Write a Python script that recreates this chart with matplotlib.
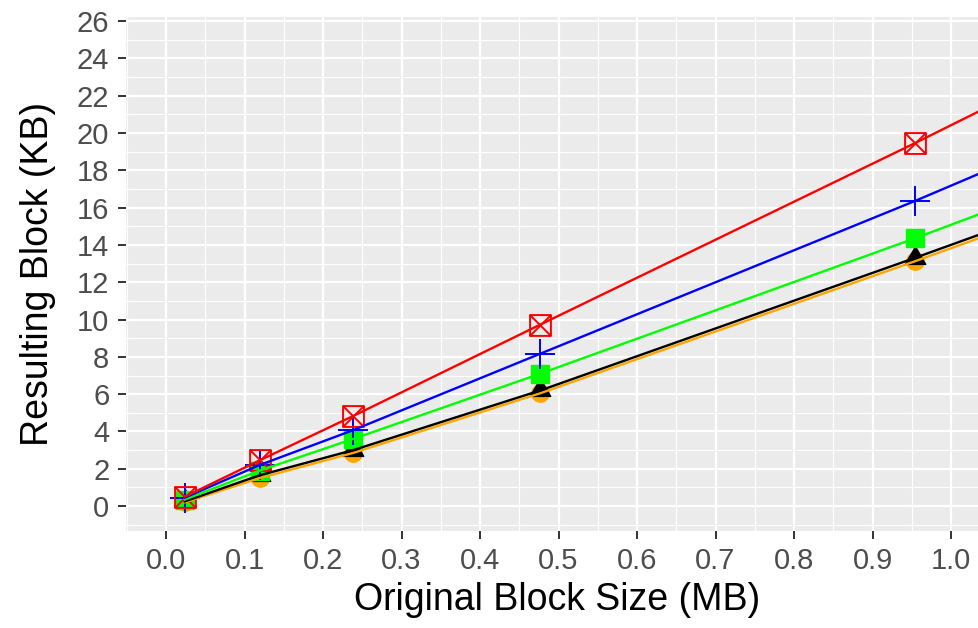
import numpy as np
import matplotlib
matplotlib.use("Agg")
import matplotlib.pyplot as plt
from matplotlib.path import Path
from matplotlib.transforms import blended_transform_factory
from matplotlib.ticker import MultipleLocator, FixedLocator

plt.rcParams['font.family'] = ['Liberation Sans', 'DejaVu Sans']

# block sizes (MB); the last one lies past the right edge of the panel
block_mb = [0.0238, 0.1192, 0.2384, 0.4768, 0.9537, 1.9073]

# resulting block sizes (KB), one list per series
orange_kb = [0.2, 1.5, 2.85, 6.05, 13.12, 27.6]
black_kb = [0.25, 1.65, 3.0, 6.2, 13.3, 27.8]
green_kb = [0.35, 1.9, 3.6, 7.1, 14.35, 29.4]
blue_kb = [0.45, 2.2, 4.07, 8.17, 16.35, 33.4]
red_kb = [0.5, 2.45, 4.83, 9.73, 19.45, 39.4]

# square with a cross (R shape 7)
box_x = Path([(-1, -1), (1, -1), (1, 1), (-1, 1), (-1, -1),
              (-1, -1), (1, 1), (-1, 1), (1, -1)],
             [Path.MOVETO, Path.LINETO, Path.LINETO, Path.LINETO, Path.CLOSEPOLY,
              Path.MOVETO, Path.LINETO, Path.MOVETO, Path.LINETO])
# triangle centred on its centroid, as R draws it
tri = Path([(0, 1), (-0.866, -0.5), (0.866, -0.5), (0, 1)],
           [Path.MOVETO, Path.LINETO, Path.LINETO, Path.CLOSEPOLY])

series = [
    (orange_kb, '#FFA500', dict(marker='o', ms=12.5, mfc='#FFA500', mec='#FFA500')),
    (black_kb, 'black', dict(marker=tri, ms=17, mfc='black', mec='black')),
    (green_kb, '#00FF00', dict(marker='s', ms=13.5, mfc='#00FF00', mec='#00FF00')),
    (blue_kb, '#0000FF', dict(marker='+', ms=22, mec='#0000FF', mew=1.4)),
    (red_kb, '#FF0000', dict(marker=box_x, ms=15, mfc='none', mec='#FF0000', mew=1.4)),
]

fig = plt.figure(figsize=(9.79, 6.28), dpi=100)
ax = fig.add_axes([126 / 979, 97.3 / 628, (988 - 126) / 979, 513.7 / 628])
ax.set_facecolor('#EBEBEB')

x = np.array(block_mb)
for vals, col, mk in series:
    ax.plot(x, vals, ls='none', zorder=3, **mk)

# connecting lines drawn over the points
for vals, col, mk in series:
    ax.plot(x, vals, color=col, lw=1.7, zorder=4)

ax.set_xlim(-0.051, (988 - 166) / 785)
ax.set_ylim(-1.32, 26.22)
ax.xaxis.set_major_locator(FixedLocator(np.round(np.arange(0, 1.01, 0.1), 1)))
ax.xaxis.set_minor_locator(MultipleLocator(0.05))
ax.yaxis.set_major_locator(MultipleLocator(2))
ax.yaxis.set_minor_locator(MultipleLocator(1))
ax.xaxis.set_major_formatter(lambda v, p: f"{v:.1f}")

ax.grid(which='major', color='white', lw=1.6)
ax.grid(which='minor', color='white', lw=0.8)
ax.set_axisbelow(True)
for s in ax.spines.values():
    s.set_visible(False)
ax.tick_params(which='major', length=6, width=1.4, color='#333333',
               labelcolor='#4D4D4D', labelsize=21, pad=6)
ax.tick_params(which='minor', length=0)

ax.set_xlabel('Original Block Size (MB)', fontsize=27, color='black')
ax.set_ylabel('Resulting Block (KB)', fontsize=27, color='black')
ax.xaxis.set_label_coords(0.5, (628 - 582) / 628,
                          transform=blended_transform_factory(ax.transAxes, fig.transFigure))
ax.yaxis.set_label_coords(56 / 979, 0.5,
                          transform=blended_transform_factory(fig.transFigure, ax.transAxes))

fig.savefig('out.png', dpi=100)
